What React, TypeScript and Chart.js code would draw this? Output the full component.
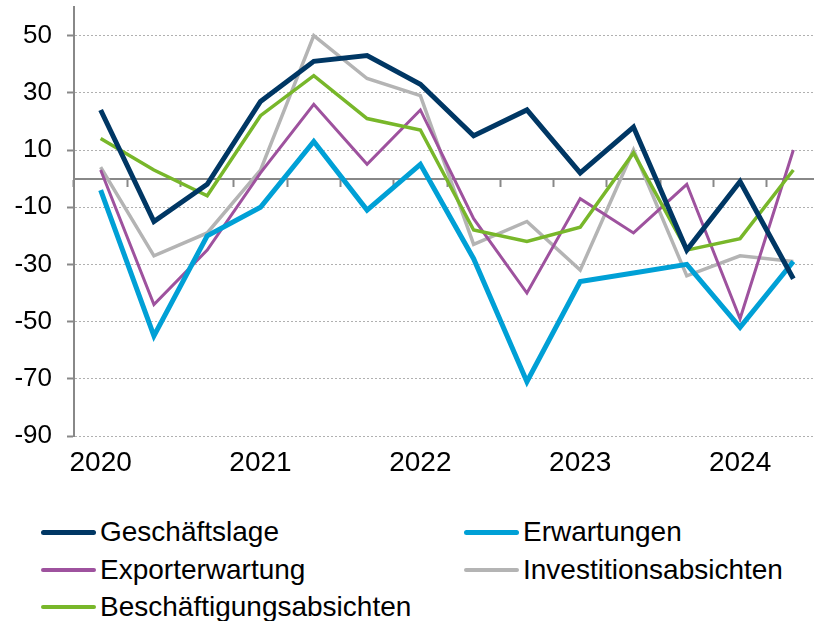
import React, { useEffect, useRef } from 'react';
import { Chart, registerables } from 'chart.js';

Chart.register(...registerables);

const categories = ['2020', '', '', '2021', '', '', '2022', '', '', '2023', '', '', '2024', ''];
const yTickLabels = [50, 30, 10, -10, -30, -50, -70, -90];

const geschaeftslage = [24, -15, -2, 27, 41, 43, 33, 15, 24, 2, 18, -25, -1, -35];
const erwartungen = [-4, -55, -20, -10, 13, -11, 5, -28, -71, -36, -33, -30, -52, -29];
const exporterwartung = [3, -44, -25, 2, 26, 5, 24, -14, -40, -7, -19, -2, -49, 10];
const investitionsabsichten = [4, -27, -19, 3, 50, 35, 29, -23, -15, -32, 10, -34, -27, -29];
const beschaeftigungsabsichten = [14, 3, -6, 22, 36, 21, 17, -18, -22, -17, 9, -25, -21, 3];

const seriesNames = [
  'Geschäftslage',
  'Erwartungen',
  'Exporterwartung',
  'Investitionsabsichten',
  'Beschäftigungsabsichten',
];
const seriesData = [geschaeftslage, erwartungen, exporterwartung, investitionsabsichten, beschaeftigungsabsichten];
const seriesColors = ['#003764', '#00a0d6', '#9e529e', '#b4b4b4', '#78b72a'];
const seriesWidths = [5, 5, 3, 3.5, 3.5];
const seriesOrder = [0, 1, 3, 4, 2];
const legendWidths = [5, 5, 4, 4, 4];

const FONT = "'Liberation Sans', Arial, Helvetica, sans-serif";
const AXIS = '#888888';
const GRID = '#b0b0b0';

export default function App() {
  const ref = useRef<HTMLCanvasElement>(null);

  useEffect(() => {
    if (!ref.current) return;
    const chart = new Chart(ref.current, {
      type: 'line',
      data: {
        labels: categories,
        datasets: seriesNames.map((name, i) => ({
          label: name,
          data: seriesData[i],
          borderColor: seriesColors[i],
          backgroundColor: seriesColors[i],
          borderWidth: seriesWidths[i],
          pointRadius: 0,
          tension: 0,
          order: seriesOrder[i],
          xAxisID: 'x',
          yAxisID: 'y',
        })),
      },
      options: {
        responsive: false,
        animation: false,
        devicePixelRatio: 1,
        layout: { padding: { top: 7, left: 0, right: 0, bottom: 0 } },
        plugins: { legend: { display: false }, tooltip: { enabled: false } },
        scales: {
          x: {
            type: 'category',
            position: 'bottom',
            offset: true,
            grid: { display: false, drawTicks: false },
            border: { display: false },
            ticks: {
              autoSkip: false,
              maxRotation: 0,
              minRotation: 0,
              padding: 10,
              color: '#000',
              font: { size: 28, family: FONT },
            },
            afterFit: (s: any) => {
              s.height = 44;
            },
          },
          x0: {
            type: 'category',
            position: { y: 0 },
            offset: true,
            grid: {
              offset: true,
              drawOnChartArea: false,
              drawTicks: true,
              tickLength: 7,
              tickWidth: 2,
              tickColor: AXIS,
            },
            border: { display: true, color: AXIS, width: 2 },
            ticks: { display: false },
          },
          y: {
            type: 'linear',
            min: -90,
            max: 60,
            ticks: {
              stepSize: 10,
              padding: 15,
              color: '#000',
              font: { size: 26, family: FONT },
              callback: (v: any) => (yTickLabels.includes(Number(v)) ? String(v) : ''),
            },
            grid: {
              color: (ctx: any) => (ctx.tick && ctx.tick.value === 0 ? 'rgba(0,0,0,0)' : GRID),
              lineWidth: 1,
              tickLength: 7,
              tickWidth: 2,
              tickColor: AXIS,
              tickBorderDash: [],
            },
            border: { display: true, color: AXIS, width: 2, dash: [2, 2] },
            afterFit: (s: any) => {
              s.width = 74;
              s.paddingTop = 0;
              s.paddingBottom = 0;
            },
          },
        },
      },
    } as any);
    return () => chart.destroy();
  }, []);

  const colX = [41, 464];
  const rowY = [532, 569.5, 607];

  return (
    <div
      style={{
        position: 'fixed',
        left: 0,
        top: 0,
        width: 814,
        height: 621,
        overflow: 'hidden',
        background: '#fff',
        fontFamily: FONT,
      }}
    >
      <canvas
        ref={ref}
        width={820}
        height={480}
        style={{ position: 'absolute', left: 0, top: 0, display: 'block' }}
      />
      {seriesNames.map((name, i) => {
        const col = i % 2;
        const row = Math.floor(i / 2);
        return (
          <div
            key={name}
            style={{
              position: 'absolute',
              left: colX[col],
              top: rowY[row] - 20,
              height: 40,
              display: 'flex',
              alignItems: 'center',
              whiteSpace: 'nowrap',
            }}
          >
            <div
              style={{
                width: 55,
                height: legendWidths[i],
                background: seriesColors[i],
                borderRadius: legendWidths[i] / 2,
                marginRight: 4,
              }}
            />
            <span style={{ fontSize: 28, color: '#000', lineHeight: 'normal' }}>{name}</span>
          </div>
        );
      })}
    </div>
  );
}
